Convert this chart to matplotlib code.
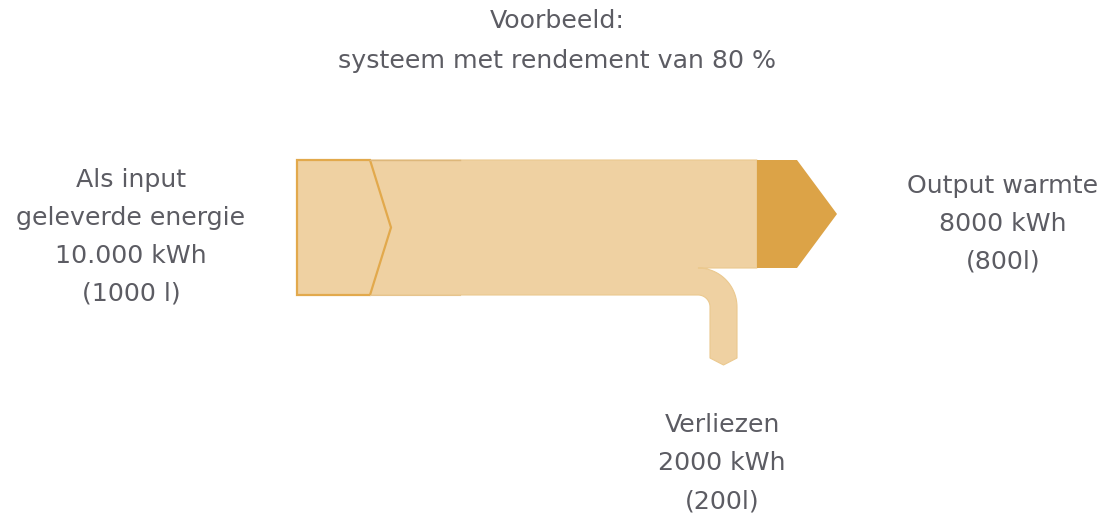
"""
Sankey-style energy flow: input -> output heat + losses (80 % efficiency).
"""

import matplotlib.pyplot as plt
import numpy as np
from matplotlib.patches import PathPatch, Polygon
from matplotlib.path import Path

# values (kWh)
INPUT_KWH = 10000
OUTPUT_KWH = 8000
LOSS_KWH = 2000

TITLE_LINES = ["Voorbeeld:", "systeem met rendement van 80 %"]
INPUT_LABEL = ["Als input", "geleverde energie", "10.000 kWh", "(1000 l)"]
OUTPUT_LABEL = ["Output warmte", "8000 kWh", "(800l)"]
LOSS_LABEL = ["Verliezen", "2000 kWh", "(200l)"]

LIGHT = "#EFD1A2"
EDGE = "#E2A94C"
DARK = "#DCA347"
TEXT = "#5C5C63"

# layout in pixel units
SCALE = 135 / INPUT_KWH
X0, Y0 = 297, 160
CHEV_X, CHEV_D = 370, 21
BEND_X, BEND_R = 698, 12
DARK_X, DARK_LEN, TIP_LEN = 757, 40, 40
LOSS_END, LOSS_TIP = 358, 7
LINE_H = 38

h_in = INPUT_KWH * SCALE
h_out = OUTPUT_KWH * SCALE
h_loss = LOSS_KWH * SCALE


def arc(cx, cy, r, a0, a1, n=30):
    a = np.radians(np.linspace(a0, a1, n))
    # y axis is inverted (pixel coords), so subtract sin
    return list(zip(cx + r * np.cos(a), cy - r * np.sin(a)))


fig = plt.figure(figsize=(11.02, 5.16), dpi=100)
ax = fig.add_axes([0, 0, 1, 1])
ax.set_xlim(0, 1102)
ax.set_ylim(516, 0)
ax.axis("off")

y_bot = Y0 + h_in
y_split = Y0 + h_out
cy = y_bot + BEND_R
r_out = BEND_R + h_loss
lx_in = BEND_X + BEND_R
lx_out = BEND_X + r_out
lx_mid = (lx_in + lx_out) / 2

# main light body with loss branch bending down
pts = [(X0, Y0), (DARK_X, Y0), (DARK_X, y_split), (BEND_X, y_split)]
pts += arc(BEND_X, cy, r_out, 90, 0)
pts += [(lx_out, LOSS_END), (lx_mid, LOSS_END + LOSS_TIP), (lx_in, LOSS_END)]
pts += arc(BEND_X, cy, BEND_R, 0, 90)
pts += [(X0, y_bot), (X0, Y0)]
body = PathPatch(Path(pts, closed=False), facecolor=LIGHT, edgecolor="#EBC98F", lw=0.8)
ax.add_patch(body)

# input block with chevron
ax.add_patch(Polygon(
    [(X0, Y0), (CHEV_X, Y0), (CHEV_X + CHEV_D, Y0 + h_in / 2), (CHEV_X, y_bot), (X0, y_bot)],
    closed=True, facecolor=LIGHT, edgecolor=EDGE, lw=1.6, joinstyle="miter",
))
ax.plot([CHEV_X, 460], [Y0, Y0], color="#DDB77A", lw=1.0)
ax.plot([CHEV_X, 460], [y_bot, y_bot], color="#E6C48E", lw=0.8)

# dark output arrow
ax.add_patch(Polygon(
    [(DARK_X, Y0), (DARK_X + DARK_LEN, Y0), (DARK_X + DARK_LEN + TIP_LEN, Y0 + h_out / 2),
     (DARK_X + DARK_LEN, y_split), (DARK_X, y_split)],
    closed=True, facecolor=DARK, edgecolor="none",
))

font = dict(family=["DejaVu Sans"], fontsize=18.2, color=TEXT, ha="center", va="center")


def label(lines, x, y, step=LINE_H):
    for i, s in enumerate(lines):
        ax.text(x, y + i * step, s, **font)


label(TITLE_LINES, 557, 21, step=40)
label(INPUT_LABEL, 131, 180)
label(OUTPUT_LABEL, 1003, 186)
label(LOSS_LABEL, 722, 425)

fig.savefig("out.png", dpi=100)
